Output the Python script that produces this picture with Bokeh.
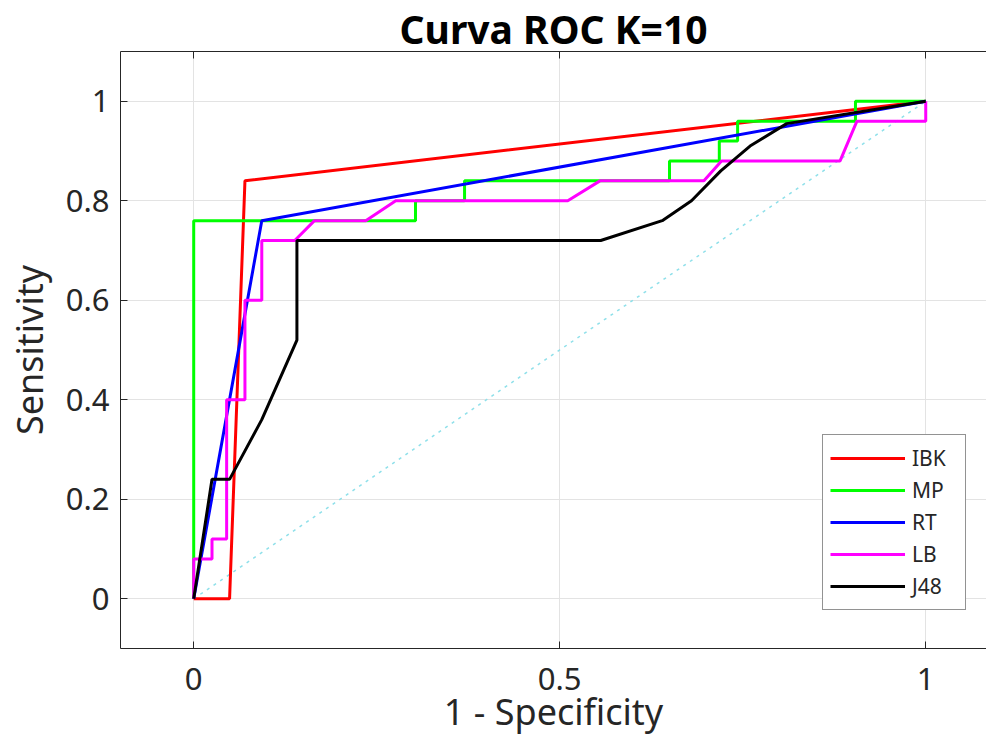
from bokeh.plotting import figure
from bokeh.models import Range1d, LinearAxis, FixedTicker, Legend, LegendItem
from bokeh.embed import file_html
from bokeh.resources import INLINE

# ---- data ----
ibk_x = [0, 0.049, 0.07, 1]
ibk_y = [0, 0, 0.84, 1]

mp_x = [0, 0, 0.303, 0.303, 0.37, 0.37, 0.65, 0.65, 0.718, 0.718, 0.743, 0.743, 0.904, 0.904, 1]
mp_y = [0, 0.76, 0.76, 0.80, 0.80, 0.84, 0.84, 0.88, 0.88, 0.92, 0.92, 0.96, 0.96, 1, 1]

rt_x = [0, 0.093, 1]
rt_y = [0, 0.76, 1]

lb_x = [0, 0, 0.025, 0.025, 0.045, 0.045, 0.07, 0.07, 0.093, 0.093, 0.138, 0.165,
        0.235, 0.276, 0.511, 0.555, 0.697, 0.721, 0.883, 0.906, 1, 1]
lb_y = [0, 0.08, 0.08, 0.12, 0.12, 0.40, 0.40, 0.60, 0.60, 0.72, 0.72, 0.76,
        0.76, 0.80, 0.80, 0.84, 0.84, 0.88, 0.88, 0.96, 0.96, 1]

j48_x = [0, 0.025, 0.049, 0.093, 0.141, 0.141, 0.556, 0.64, 0.68, 0.72, 0.76, 0.81, 1]
j48_y = [0, 0.24, 0.24, 0.36, 0.52, 0.72, 0.72, 0.76, 0.80, 0.86, 0.91, 0.955, 1]

diag_x = [0, 1]
diag_y = [0, 1]

x_ticks = [0, 0.5, 1]
y_ticks = [0, 0.2, 0.4, 0.6, 0.8, 1]

series = [
    ("IBK", ibk_x, ibk_y, "#ff0000"),
    ("MP", mp_x, mp_y, "#00ff00"),
    ("RT", rt_x, rt_y, "#0000ff"),
    ("LB", lb_x, lb_y, "#ff00ff"),
    ("J48", j48_x, j48_y, "#000000"),
]

FONT = "Noto Sans"
TXT = "#262626"

p = figure(width=986, height=738, output_backend="svg", toolbar_location=None,
           x_range=Range1d(-0.1, 1.083), y_range=Range1d(-0.1, 1.1),
           x_axis_location=None, y_axis_location=None,
           min_border_left=120, min_border_right=0, min_border_top=51,
           min_border_bottom=90)
p.outline_line_color = None
p.background_fill_color = "white"
p.border_fill_color = "white"

p.title.text = "Curva ROC K=10"
p.title.text_font = FONT
p.title.text_font_size = "39px"
p.title.text_font_style = "bold"
p.title.text_color = "#000000"
p.title.align = "center"
p.title.standoff = -7
p.title.offset = 4

def style_axis(ax, ticks, show_labels=True):
    ax.ticker = FixedTicker(ticks=ticks)
    ax.axis_line_color = TXT
    ax.axis_line_width = 1
    ax.major_tick_line_color = TXT
    ax.major_tick_in = 7
    ax.major_tick_out = 0
    ax.minor_tick_line_color = None
    ax.major_label_text_font = FONT
    ax.major_label_text_color = TXT
    ax.axis_label_text_font = FONT
    ax.axis_label_text_color = TXT
    ax.axis_label_text_font_style = "normal"
    if show_labels:
        ax.major_label_text_font_size = "31px"
        ax.axis_label_text_font_size = "36px"
    else:
        ax.major_label_text_font_size = "0px"
        ax.major_label_standoff = 0
        ax.major_label_text_alpha = 0

xb = LinearAxis(axis_label="1 - Specificity")
style_axis(xb, x_ticks)
xb.major_label_standoff = 19
xb.axis_label_standoff = -6
xb.major_label_overrides = {0: "0", 0.5: "0.5", 1: "1"}
p.add_layout(xb, "below")

yl = LinearAxis(axis_label="Sensitivity")
style_axis(yl, y_ticks)
yl.major_label_standoff = 11
yl.axis_label_standoff = 9
yl.major_label_overrides = {0: "0", 0.2: "0.2", 0.4: "0.4", 0.6: "0.6", 0.8: "0.8", 1: "1"}
p.add_layout(yl, "left")

xt = LinearAxis()
style_axis(xt, x_ticks, show_labels=False)
p.add_layout(xt, "above")

p.xgrid.ticker = FixedTicker(ticks=x_ticks)
p.ygrid.ticker = FixedTicker(ticks=y_ticks)
p.grid.grid_line_color = "#e3e3e3"
p.grid.grid_line_width = 1

p.line(diag_x, diag_y, line_color="#8fe0ea", line_width=1.5, line_dash="3 5")

items = []
for name, xs, ys, col in series:
    r = p.line(xs, ys, line_color=col, line_width=3)
    items.append(LegendItem(label=name, renderers=[r]))

legend = Legend(items=items, location=(702, 38))
legend.label_text_font = FONT
legend.label_text_font_size = "21px"
legend.label_text_color = TXT
legend.glyph_width = 75
legend.glyph_height = 32
legend.label_height = 32
legend.label_width = 46
legend.label_standoff = 7
legend.spacing = 0
legend.padding = 7
legend.margin = 0
legend.border_line_color = TXT
legend.border_line_width = 1
legend.background_fill_color = "white"
legend.background_fill_alpha = 1
p.add_layout(legend, "center")

open("out.html", "w").write(file_html(p, INLINE))
